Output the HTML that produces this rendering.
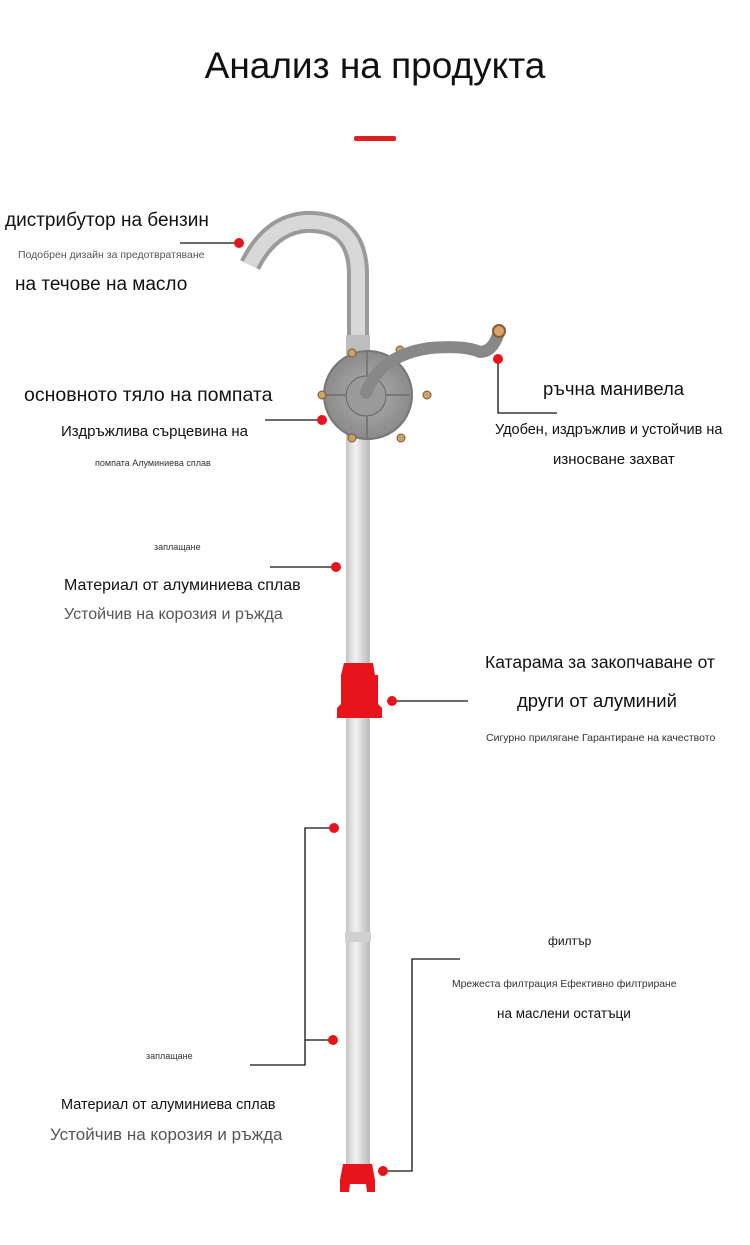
<!DOCTYPE html>
<html><head><meta charset="utf-8"><style>
body{margin:0;background:#fff;}
.w{position:relative;width:750px;height:1245px;overflow:hidden;font-family:"Liberation Sans","DejaVu Sans",sans-serif;color:#111;}
.t{position:absolute;white-space:nowrap;}
</style></head><body><div class="w">
<svg width="750" height="1245" style="position:absolute;left:0;top:0">
<defs>
<linearGradient id="tube" x1="0" x2="1"><stop offset="0" stop-color="#c4c4c4"/><stop offset="0.4" stop-color="#f2f2f2"/><stop offset="1" stop-color="#b8b8b8"/></linearGradient>
<radialGradient id="disc"><stop offset="0" stop-color="#b0b0b0"/><stop offset="1" stop-color="#8a8a8a"/></radialGradient>
</defs>
<rect x="354" y="136" width="42" height="5" rx="2" fill="#e02020"/>
<path d="M358 345 L358 275 Q358 220 305 222 Q270 225 250 265" stroke="#9a9a9a" stroke-width="22" fill="none"/>
<path d="M358 345 L358 275 Q358 220 305 222 Q270 225 250 265" stroke="#d8d8d8" stroke-width="14" fill="none"/>
<rect x="346" y="335" width="24" height="20" fill="#bdbdbd"/>
<rect x="346" y="430" width="24" height="740" fill="url(#tube)"/>
<rect x="345" y="932" width="26" height="10" fill="#d0d0d0"/>
<circle cx="368" cy="395" r="44" fill="url(#disc)" stroke="#777" stroke-width="2"/>
<circle cx="366" cy="396" r="20" fill="#9a9a9a" stroke="#666"/>
<g stroke="#777" stroke-width="2"><line x1="367" y1="352" x2="367" y2="376"/><line x1="326" y1="395" x2="346" y2="395"/><line x1="386" y1="395" x2="410" y2="395"/><line x1="367" y1="416" x2="367" y2="438"/></g>
<g fill="#c9a26a" stroke="#7a5a30"><circle cx="352" cy="353" r="4"/><circle cx="400" cy="350" r="4"/><circle cx="322" cy="395" r="4"/><circle cx="427" cy="395" r="4"/><circle cx="352" cy="438" r="4"/><circle cx="401" cy="438" r="4"/><circle cx="366" cy="393" r="5"/></g>
<path d="M366 393 Q380 355 430 348 Q465 345 480 352 Q492 352 498 335" stroke="#888" stroke-width="12" fill="none" stroke-linecap="round"/>
<circle cx="499" cy="331" r="6" fill="#d8a070" stroke="#8a5a30" stroke-width="2"/>
<path d="M344 663 H373 L375 675 H378 V704 L382 708 V718 H337 V708 L341 704 V675 Z" fill="#e8141b"/>
<path d="M343 1164 H372 L375 1180 V1192 H367 L366 1184 H350 L349 1192 H340 V1180 Z" fill="#e8141b"/>
<g stroke="#111" stroke-width="1.3" fill="none">
<path d="M180 243 H239"/><path d="M265 420 H322"/>
<path d="M498 359 V413 H557"/><path d="M270 567 H336"/>
<path d="M392 701 H468"/>
<path d="M334 828 H305 V1065 H250 M305 1040 H333"/>
<path d="M383 1171 H412 V959 H460"/>
</g>
<g fill="#e8141b"><circle cx="239" cy="243" r="5"/><circle cx="322" cy="420" r="5"/><circle cx="498" cy="359" r="5"/><circle cx="336" cy="567" r="5"/><circle cx="392" cy="701" r="5"/><circle cx="334" cy="828" r="5"/><circle cx="333" cy="1040" r="5"/><circle cx="383" cy="1171" r="5"/></g>
</svg>
<div class="t" style="left:0;width:750px;text-align:center;top:45px;font-size:37px">Анализ на продукта</div>
<div class="t" style="left:5px;top:210px;font-size:19px">дистрибутор на бензин</div>
<div class="t" style="left:18px;top:249px;font-size:10.5px;color:#555">Подобрен дизайн за предотвратяване</div>
<div class="t" style="left:15px;top:274px;font-size:19px">на течове на масло</div>
<div class="t" style="left:24px;top:384px;font-size:19.5px">основното тяло на помпата</div>
<div class="t" style="left:61px;top:423px;font-size:15px">Издръжлива сърцевина на</div>
<div class="t" style="left:95px;top:458px;font-size:9px;color:#333">помпата Алуминиева сплав</div>
<div class="t" style="left:543px;top:378px;font-size:18.5px">ръчна манивела</div>
<div class="t" style="left:495px;top:422px;font-size:14.5px">Удобен, издръжлив и устойчив на</div>
<div class="t" style="left:553px;top:451px;font-size:15px">износване захват</div>
<div class="t" style="left:154px;top:542px;font-size:9px;color:#333">заплащане</div>
<div class="t" style="left:64px;top:577px;font-size:16px">Материал от алуминиева сплав</div>
<div class="t" style="left:64px;top:606px;font-size:16px;color:#555">Устойчив на корозия и ръжда</div>
<div class="t" style="left:485px;top:652px;font-size:17.5px">Катарама за закопчаване от</div>
<div class="t" style="left:517px;top:690px;font-size:18.5px">други от алуминий</div>
<div class="t" style="left:486px;top:732px;font-size:10.5px;color:#333">Сигурно прилягане Гарантиране на качеството</div>
<div class="t" style="left:548px;top:934px;font-size:12px">филтър</div>
<div class="t" style="left:452px;top:979px;font-size:10.4px;color:#333">Мрежеста филтрация Ефективно филтриране</div>
<div class="t" style="left:497px;top:1006px;font-size:13.5px">на маслени остатъци</div>
<div class="t" style="left:146px;top:1051px;font-size:9px;color:#333">заплащане</div>
<div class="t" style="left:61px;top:1097px;font-size:14.5px">Материал от алуминиева сплав</div>
<div class="t" style="left:50px;top:1125px;font-size:17px;color:#555">Устойчив на корозия и ръжда</div>
</div></body></html>
